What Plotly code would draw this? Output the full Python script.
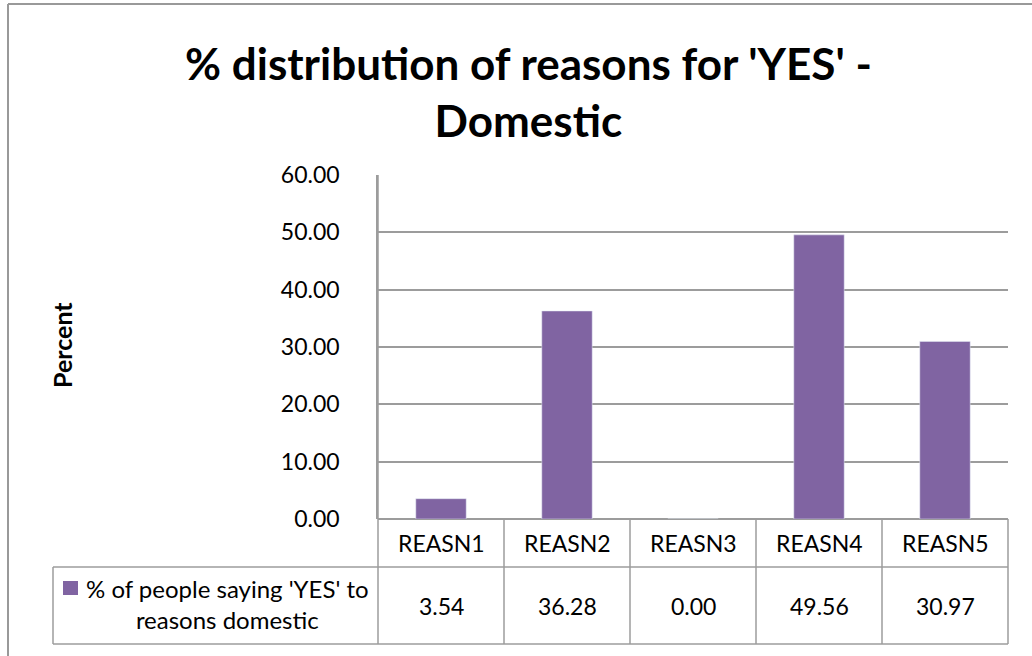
import plotly.graph_objects as go

# Chart data
categories = ["REASN1", "REASN2", "REASN3", "REASN4", "REASN5"]
values = [3.54, 36.28, 0.00, 49.56, 30.97]
series_name = "% of people saying 'YES' to<br>reasons domestic"
title_lines = ["% distribution of reasons for 'YES' -", "Domestic"]
y_title = "Percent"
y_ticks = [0, 10, 20, 30, 40, 50, 60]

W, H = 1032, 656
L, R, T, B = 378, 1008, 175, 519  # plot area in pixels
BAR = "#8064A2"
GRID = "#9c9c9c"
FONT = "Lato"


def px(x):
    return (x - L) / (R - L)


def py(y):
    return (B - y) / (B - T)


fig = go.Figure(
    go.Bar(
        x=list(range(len(categories))),
        y=values,
        marker_color=BAR,
        width=0.4,
        showlegend=False,
        hoverinfo="skip",
    )
)

shapes = []


def hline(y, x0, x1, color=GRID, w=1.5):
    shapes.append(dict(type="line", xref="paper", yref="paper",
                       x0=px(x0), x1=px(x1), y0=py(y), y1=py(y),
                       line=dict(color=color, width=w)))


def vline(x, y0, y1, color=GRID, w=1.5):
    shapes.append(dict(type="line", xref="paper", yref="paper",
                       x0=px(x), x1=px(x), y0=py(y0), y1=py(y1),
                       line=dict(color=color, width=w)))


# data table grid below the plot
ROW1, ROW2, ROW3 = B, 567, 644
col_w = (R - L) / len(categories)
hline(ROW2, 53, R)
hline(ROW3, 53, R)
vline(53, ROW2, ROW3)
vline(L, T, ROW3)
for i in range(1, len(categories) + 1):
    vline(L + i * col_w, ROW1, ROW3)

# legend key swatch
shapes.append(dict(type="rect", xref="paper", yref="paper",
                   x0=px(63), x1=px(78), y0=py(595), y1=py(581),
                   fillcolor=BAR, line=dict(width=0)))

# outer chart border (left and top edges)
vline(8, 4, H + 5, color="#999999", w=2)
hline(4, 8, W + 5, color="#999999", w=2)

annotations = []
txt_font = dict(family=FONT, size=23, color="#000000")
for i, (c, v) in enumerate(zip(categories, values)):
    annotations.append(dict(x=i, xref="x", y=py((ROW1 + ROW2) / 2), yref="paper",
                            text=c, showarrow=False, font=txt_font,
                            xanchor="center", yanchor="middle"))
    annotations.append(dict(x=i, xref="x", y=py((ROW2 + ROW3) / 2), yref="paper",
                            text=f"{v:.2f}", showarrow=False, font=txt_font,
                            xanchor="center", yanchor="middle"))

annotations.append(dict(x=px(227), xref="paper", y=py(604), yref="paper",
                        text=series_name, showarrow=False,
                        font=dict(family=FONT, size=24, color="#000000"),
                        align="center", xanchor="center", yanchor="middle"))

annotations.append(dict(x=px(62), xref="paper", y=py(345), yref="paper",
                        text=f"<b>{y_title}</b>", showarrow=False, textangle=-90,
                        font=dict(family=FONT, size=25, color="#000000"),
                        xanchor="center", yanchor="middle"))

# two-line chart title
annotations.append(dict(x=px(528), xref="paper", y=py(91), yref="paper",
                        text="<br>".join(f"<b>{t}</b>" for t in title_lines),
                        showarrow=False, align="center",
                        font=dict(family=FONT, size=44, color="#000000"),
                        xanchor="center", yanchor="middle"))

fig.update_layout(
    width=W, height=H,
    margin=dict(l=L, r=W - R, t=T, b=H - B, pad=0),
    paper_bgcolor="white", plot_bgcolor="white",
    shapes=shapes, annotations=annotations,
    xaxis=dict(range=[-0.5, len(categories) - 0.5], showticklabels=False,
               showgrid=False, zeroline=False, showline=False, fixedrange=True),
    yaxis=dict(range=[0, 60], tickvals=y_ticks, tickformat=".2f",
               showgrid=True, gridcolor=GRID, gridwidth=1.5,
               zeroline=True, zerolinecolor=GRID, zerolinewidth=1.5,
               showline=True, linecolor=GRID, linewidth=1.5,
               ticks="", ticklabelstandoff=32,
               tickfont=dict(family=FONT, size=23, color="#000000"),
               fixedrange=True),
    bargap=0.6,
    font=dict(family=FONT),
)

fig.write_html("out.html", config={"displayModeBar": False})
